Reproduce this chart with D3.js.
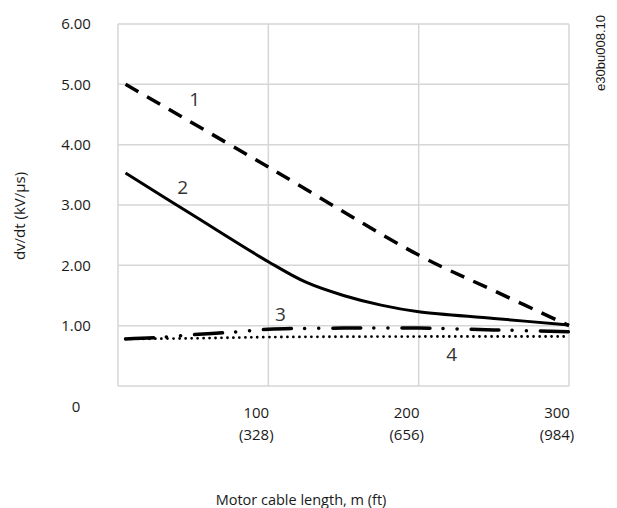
<!DOCTYPE html>
<html>
<head>
<meta charset="utf-8">
<script src="https://cdn.jsdelivr.net/npm/d3@7"></script>
<style>
  body { margin: 0; background: #fff; }
  text { font-family: "Open Sans", "Noto Sans", sans-serif; fill: #1a1a1a; }
</style>
</head>
<body>
<svg id="chart"></svg>
<script>
const svgWidth = 617;
const svgHeight = 508;

// cable length in m, dv/dt in kV/us
const lengths1 = [5, 100, 200, 250, 300];
const curve1 = [5.0, 3.63, 2.17, 1.58, 1.0];
const lengths2 = [5, 50, 100, 125, 150, 175, 200, 250, 300];
const curve2 = [3.53, 2.83, 2.06, 1.72, 1.50, 1.34, 1.23, 1.12, 1.01];
const lengths3 = [5, 25, 50, 75, 100, 150, 200, 250, 300];
const curve3 = [0.78, 0.80, 0.85, 0.89, 0.94, 0.96, 0.96, 0.93, 0.90];
const lengths4 = [5, 50, 100, 200, 300];
const curve4 = [0.78, 0.79, 0.81, 0.82, 0.82];

const yTicks = [0, 1, 2, 3, 4, 5, 6];
const xTicks = [0, 100, 200, 300];
const xTickFeet = ["", "(328)", "(656)", "(984)"];
const curveNames = ["1", "2", "3", "4"];

const svg = d3.select("#chart")
	.attr("width", svgWidth)
	.attr("height", svgHeight);

const xScale = d3.scaleLinear().domain([0, 300]).range([118, 569]);
const yScale = d3.scaleLinear().domain([0, 6]).range([386, 24]);

// grid
svg.append("g")
	.selectAll("line.h")
	.data(yTicks)
	.enter()
	.append("line")
	.attr("x1", xScale(0))
	.attr("x2", xScale(300))
	.attr("y1", d => yScale(d))
	.attr("y2", d => yScale(d))
	.attr("stroke", "#d6d6d6")
	.attr("stroke-width", 1.5);

svg.append("g")
	.selectAll("line.v")
	.data(xTicks)
	.enter()
	.append("line")
	.attr("x1", d => xScale(d))
	.attr("x2", d => xScale(d))
	.attr("y1", yScale(0))
	.attr("y2", yScale(6))
	.attr("stroke", "#d6d6d6")
	.attr("stroke-width", 1.5);

// y tick labels (the 0 sits below the plot in the original)
svg.append("g")
	.selectAll("text")
	.data(yTicks)
	.enter()
	.append("text")
	.text(d => d === 0 ? "0" : d3.format(".2f")(d))
	.attr("x", 76)
	.attr("y", d => d === 0 ? yScale(d) + 21 : yScale(d))
	.attr("dy", "0.35em")
	.attr("text-anchor", "middle")
	.attr("font-size", "15px");

// x tick labels
const xLab = svg.append("g")
	.selectAll("g")
	.data(xTicks.slice(1))
	.enter()
	.append("g");
xLab.append("text")
	.text(d => d)
	.attr("x", d => xScale(d) - 12)
	.attr("y", 418)
	.attr("text-anchor", "middle")
	.attr("font-size", "15px");
xLab.append("text")
	.text((d, i) => xTickFeet[i + 1])
	.attr("x", d => xScale(d) - 12)
	.attr("y", 440)
	.attr("text-anchor", "middle")
	.attr("font-size", "15px");

// axis titles
svg.append("text")
	.text("Motor cable length, m (ft)")
	.attr("x", 301)
	.attr("y", 505)
	.attr("text-anchor", "middle")
	.attr("font-size", "14.5px");

svg.append("text")
	.text("dv/dt (kV/\u00b5s)")
	.attr("transform", "rotate(-90)")
	.attr("x", -216)
	.attr("y", 20)
	.attr("dy", "0.35em")
	.attr("text-anchor", "middle")
	.attr("font-size", "15px");

// figure code
svg.append("text")
	.text("e30bu008.10")
	.attr("transform", "rotate(-90)")
	.attr("x", -53)
	.attr("y", 600)
	.attr("dy", "0.35em")
	.attr("text-anchor", "middle")
	.attr("font-size", "13px")
	.style("font-family", "'Liberation Sans', Arial, sans-serif");

// curves
const line = d3.line()
	.x(d => xScale(d[0]))
	.y(d => yScale(d[1]))
	.curve(d3.curveCatmullRom.alpha(0.5));

const series = [
	{xs: lengths4, ys: curve4, dash: "0,6", width: 2.8, cap: "round"},
	{xs: lengths3, ys: curve3, dash: "28,13,0.1,14,0.1,14", width: 3.5, cap: "round"},
	{xs: lengths2, ys: curve2, dash: null, width: 3, cap: "butt"},
	{xs: lengths1, ys: curve1, dash: "15,10", width: 3.5, cap: "butt"}
];

svg.append("g")
	.selectAll("path")
	.data(series)
	.enter()
	.append("path")
	.attr("d", s => line(s.xs.map((x, i) => [x, s.ys[i]])))
	.attr("fill", "none")
	.attr("stroke", "#000")
	.attr("stroke-width", s => s.width)
	.attr("stroke-dasharray", s => s.dash)
	.attr("stroke-linecap", s => s.cap);

// curve numbers, placed by data coordinates
const labelAt = [[51, 4.75], [43, 3.30], [108, 1.18], [222, 0.52]];
svg.append("g")
	.selectAll("text")
	.data(curveNames)
	.enter()
	.append("text")
	.text(d => d)
	.attr("x", (d, i) => xScale(labelAt[i][0]))
	.attr("y", (d, i) => yScale(labelAt[i][1]))
	.attr("dy", "0.35em")
	.attr("text-anchor", "middle")
	.attr("font-size", "19px")
	.style("fill", "#333");
</script>
</body>
</html>
